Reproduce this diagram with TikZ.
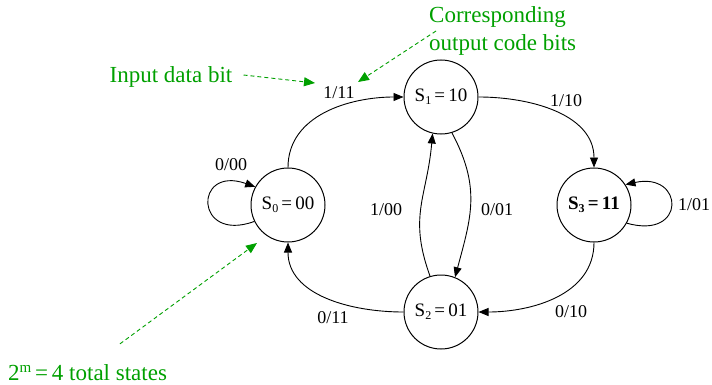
\documentclass[tikz,border=0pt]{standalone}
\usepackage{fontspec}
\setmainfont{Liberation Serif}
\usetikzlibrary{arrows.meta}
\definecolor{annog}{RGB}{0,160,0}
\newcommand{\subs}[1]{\raisebox{-0.35ex}{\fontsize{12}{12}\selectfont #1}}
\newcommand{\sups}[1]{\raisebox{0.75ex}{\fontsize{15}{15}\selectfont #1}}
\tikzset{
  statenode/.style={circle,draw,line width=1pt,minimum size=74pt,inner sep=0pt,font=\fontsize{19}{21}\selectfont},
  lbl/.style={font=\fontsize{18}{20}\selectfont,inner sep=0pt},
  arr/.style={line width=0.9pt,-{Triangle[length=10pt,width=8pt]}},
  anno/.style={text=annog,font=\fontsize{23}{28}\selectfont,inner sep=0pt},
  garr/.style={annog,line width=0.9pt,dashed,dash pattern=on 4pt off 3pt,-{Triangle[length=11pt,width=9pt]}}
}
\begin{document}
\begin{tikzpicture}[x=1pt,y=-1pt]
\useasboundingbox (0,0) rectangle (712,385);
% states
\node[statenode] (s0) at (288,205) {S\subs{0}\,=\,00};
\node[statenode] (s1) at (441,97) {S\subs{1}\,=\,10};
\node[statenode] (s2) at (441,312) {S\subs{2}\,=\,01};
\node[statenode] (s3) at (594,205) {\bfseries S\subs{3}\,=\,11};
% transitions
\draw[arr] (s0.90) to[out=90,in=180] (s1.180);
\draw[arr] (s1.0) to[out=0,in=90] (s3.90);
\draw[arr] (s1.-73) to[out=-62,in=75,looseness=1.1] (s2.68);
\draw[arr] (s2.107) to[out=110,in=-95,looseness=1.15] (s1.-103);
\draw[arr] (s3.-90) to[out=-90,in=0] (s2.0);
\draw[arr] (s2.180) to[out=180,in=-90] (s0.-90);
\draw[arr] (s0.-154) .. controls +(-60,22) and +(-62,-22) .. (s0.151);
\draw[arr] (s3.-29) .. controls +(60,17) and +(59,-13) .. (s3.33);
% labels
\node[lbl] (l01) at (339,93) {1/11};
\node[lbl] (l13) at (566,101) {1/10};
\node[lbl] (l12) at (497,210) {0/01};
\node[lbl] (l21) at (386,210) {1/00};
\node[lbl] (l32) at (571,312) {0/10};
\node[lbl] (l20) at (333,318) {0/11};
\node[lbl] (l00) at (231,165) {0/00};
\node[lbl] (l33) at (694,205) {1/01};
% annotations
\node[anno] (inb) at (171,77) {Input data bit};
\coordinate (inbT) at (315,83);
\draw[garr] ([xshift=11pt,yshift=2pt]inb.east) -- (inbT);
\node[anno,anchor=west,align=left] (corr) at (429,31) {Corresponding\\output code bits};
\coordinate (corrT) at (358,82);
\draw[garr] ([xshift=7pt]corr.west) -- (corrT);
\node[anno,anchor=base west] (tot) at (8,380) {2\sups{m}\,=\,4 total states};
\coordinate (totT) at (257,243);
\draw[garr] ([xshift=112pt,yshift=20pt]tot.north west) -- (totT);
\end{tikzpicture}
\end{document}
